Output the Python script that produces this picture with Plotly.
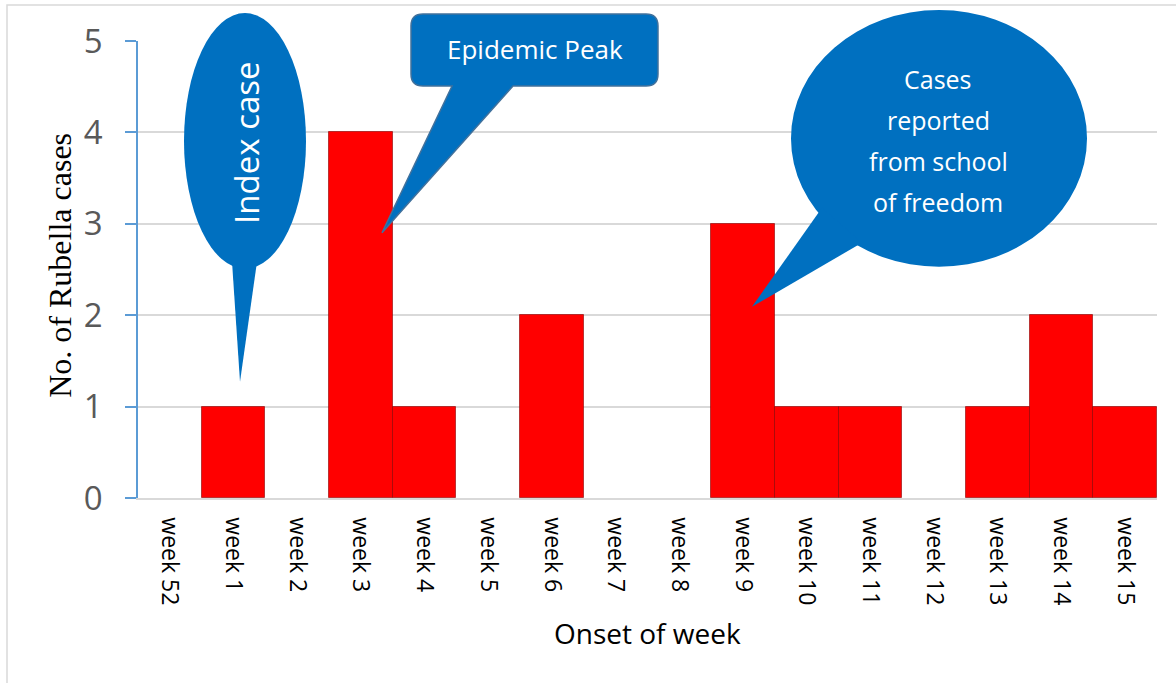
import plotly.graph_objects as go

# data
weeks = ["week 52", "week 1", "week 2", "week 3", "week 4", "week 5", "week 6", "week 7",
         "week 8", "week 9", "week 10", "week 11", "week 12", "week 13", "week 14", "week 15"]
cases = [0, 1, 0, 4, 1, 0, 2, 0, 0, 3, 1, 1, 0, 1, 2, 1]
y_ticks = [0, 1, 2, 3, 4, 5]

# plot area in pixels
W, H = 1176, 683
L, R, T, B = 138, 1157, 41, 498.5

def P(x, y):
    # pixel -> paper coordinates
    return (x - L) / (R - L), (B - y) / (B - T)

def path(points):
    parts = []
    for i, pt in enumerate(points):
        if pt[0] == "Q":
            a = P(*pt[1]); b = P(*pt[2])
            parts.append(f"Q{a[0]:.5f},{a[1]:.5f} {b[0]:.5f},{b[1]:.5f}")
        else:
            a = P(*pt)
            parts.append(("M" if i == 0 else "L") + f"{a[0]:.5f},{a[1]:.5f}")
    return " ".join(parts) + " Z"

BLUE = "#0070C0"

# no outline on empty weeks so the baseline stays grey
edge_w = [1 if v else 0 for v in cases]

fig = go.Figure(
    go.Bar(
        x=weeks,
        y=cases,
        marker=dict(color="#FF0000", line=dict(color="rgba(140,0,0,0.6)", width=edge_w)),
        hoverinfo="skip",
    )
)

shapes = []
# outer chart frame
x0, y0 = P(7, 5); x1, y1 = P(1185, 695)
shapes.append(dict(type="rect", xref="paper", yref="paper", x0=x0, y0=y0, x1=x1, y1=y1,
                   line=dict(color="#D9D9D9", width=1.5), layer="below"))

# "Index case" callout
ex0, ey0 = P(184, 13); ex1, ey1 = P(306, 269)
shapes.append(dict(type="circle", xref="paper", yref="paper", x0=ex0, y0=ey0, x1=ex1, y1=ey1,
                   fillcolor=BLUE, line=dict(width=0)))
shapes.append(dict(type="path", xref="paper", yref="paper",
                   path=path([(232, 262), (257, 262), (240, 382)]),
                   fillcolor=BLUE, line=dict(width=0)))

# "Epidemic Peak" callout (rounded rect with tail)
rx0, rx1, ry0, ry1, r = 411, 658, 14, 86, 12
shapes.append(dict(type="path", xref="paper", yref="paper",
                   path=path([(rx0 + r, ry0), (rx1 - r, ry0), ("Q", (rx1, ry0), (rx1, ry0 + r)),
                              (rx1, ry1 - r), ("Q", (rx1, ry1), (rx1 - r, ry1)),
                              (513, ry1), (382, 233), (452, ry1),
                              (rx0 + r, ry1), ("Q", (rx0, ry1), (rx0, ry1 - r)),
                              (rx0, ry0 + r), ("Q", (rx0, ry0), (rx0 + r, ry0))]),
                   fillcolor=BLUE, line=dict(color="#41719C", width=1.5)))

# "Cases reported" callout
ex0, ey0 = P(791, 10); ex1, ey1 = P(1087, 267)
shapes.append(dict(type="circle", xref="paper", yref="paper", x0=ex0, y0=ey0, x1=ex1, y1=ey1,
                   fillcolor=BLUE, line=dict(width=0)))
shapes.append(dict(type="path", xref="paper", yref="paper",
                   path=path([(822, 208), (862, 243), (752, 307)]),
                   fillcolor=BLUE, line=dict(width=0)))

annotations = []
def note(text, x, y, size, color="white", angle=0, family="Open Sans"):
    ax, ay = P(x, y)
    annotations.append(dict(text=text, x=ax, y=ay, xref="paper", yref="paper",
                            xanchor="center", yanchor="middle", showarrow=False,
                            textangle=angle, font=dict(family=family, size=size, color=color)))

note("Index case", 247, 143, 33, angle=-90)
note("Epidemic Peak", 535, 49, 26)
for txt, yy in zip(["Cases", "reported", "from school", "of freedom"], [79, 120, 161, 202]):
    note(txt, 938, yy, 25)

# axis titles
note("Onset of week", 647.5, 634, 28, color="black")
note("No. of Rubella cases", 60, 266, 32, color="black", angle=-90, family="Liberation Serif")

fig.update_layout(
    width=W, height=H,
    margin=dict(l=L, r=W - R, t=T, b=H - B),
    paper_bgcolor="white", plot_bgcolor="white",
    bargap=0,
    showlegend=False,
    shapes=shapes,
    annotations=annotations,
    xaxis=dict(
        type="category",
        tickangle=90,
        tickfont=dict(family="Open Sans", size=23, color="black"),
        showline=True, linecolor="#D9D9D9", linewidth=1.5,
        ticks="", showgrid=False,
        ticklabelstandoff=13,
    ),
    yaxis=dict(
        range=[0, 5],
        tickvals=y_ticks,
        tickfont=dict(family="Open Sans", size=33, color="#595959"),
        showline=True, linecolor="#5B9BD5", linewidth=1.5,
        ticks="outside", ticklen=11, tickcolor="#5B9BD5", tickwidth=1.5,
        showgrid=True, gridcolor="#D9D9D9", gridwidth=1.5,
        zeroline=False,
        ticklabelstandoff=16,
    ),
)

# drop the default page margin so the figure sits at the window origin
fig.write_html("out.html", config={"displayModeBar": False},
               post_script="document.body.style.margin='0';")
